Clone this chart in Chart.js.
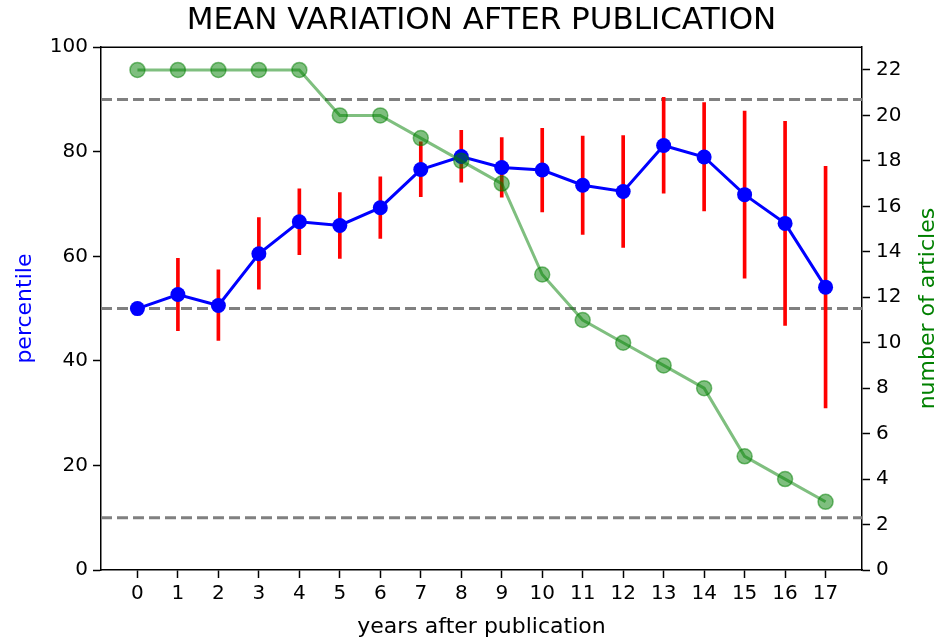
<!DOCTYPE html>
<html>
<head>
<meta charset="utf-8">
<title>Mean variation after publication</title>
<script src="https://cdn.jsdelivr.net/npm/chart.js@4.4.1/dist/chart.umd.min.js"></script>
<style>
  html, body { margin: 0; padding: 0; background: #fff; }
  #wrap { width: 944px; height: 640px; }
</style>
</head>
<body>
<div id="wrap"><canvas id="chart-variation" width="944" height="640"></canvas></div>
<script>
// data
var years = [0, 1, 2, 3, 4, 5, 6, 7, 8, 9, 10, 11, 12, 13, 14, 15, 16, 17];
var percentile = [50.0, 52.7, 50.6, 60.5, 66.6, 65.9, 69.3, 76.6, 79.1, 77.0, 76.5, 73.6, 72.4, 81.2, 79.0, 71.8, 66.3, 54.1];
var errLow  = [null, 45.8, 43.9, 53.7, 60.3, 59.6, 63.4, 71.4, 74.2, 71.3, 68.5, 64.2, 61.7, 72.1, 68.7, 55.8, 46.8, 31.0];
var errHigh = [null, 59.6, 57.4, 67.4, 72.9, 72.2, 75.2, 81.9, 84.1, 82.7, 84.5, 83.0, 83.1, 90.4, 89.4, 87.8, 85.8, 77.2];
var articles = [22, 22, 22, 22, 22, 20, 20, 19, 18, 17, 13, 11, 10, 9, 8, 5, 4, 3];
var refLevels = [10, 50, 90];
var leftTicks = [0, 20, 40, 60, 80, 100];
var rightTicks = [0, 2, 4, 6, 8, 10, 12, 14, 16, 18, 20, 22];

var FONT = "'DejaVu Sans', sans-serif";
var xMin = -0.9, xMax = 17.9;

var refSets = refLevels.map(function (lvl) {
    return {
        type: 'line',
        data: [{x: xMin, y: lvl}, {x: xMax, y: lvl}],
        yAxisID: 'y',
        borderColor: '#808080',
        borderWidth: 3,
        borderDash: [11, 5],
        pointRadius: 0,
        order: 10
    };
});

var errorSet = {
    type: 'bar',
    data: years.map(function (x, i) {
        return errLow[i] === null ? null : {x: x, y: [errLow[i], errHigh[i]]};
    }).filter(function (d) { return d !== null; }),
    yAxisID: 'y',
    backgroundColor: '#ff0000',
    borderWidth: 0,
    barThickness: 3,
    order: 5
};

var meanSet = {
    type: 'line',
    data: years.map(function (x, i) { return {x: x, y: percentile[i]}; }),
    yAxisID: 'y',
    borderColor: '#0000ff',
    backgroundColor: '#0000ff',
    borderWidth: 3,
    pointRadius: 7.5,
    pointBorderWidth: 0,
    order: 3
};

var countSet = {
    type: 'line',
    data: years.map(function (x, i) { return {x: x, y: articles[i]}; }),
    yAxisID: 'y2',
    borderColor: 'rgba(0,128,0,0.5)',
    backgroundColor: 'rgba(0,128,0,0.5)',
    borderWidth: 3,
    pointRadius: 7.5,
    pointBorderWidth: 1.5,
    pointBorderColor: 'rgba(0,128,0,0.5)',
    order: 1
};

// top frame line and right axis label (reads bottom-to-top like matplotlib)
var frameAndRightLabel = {
    id: 'frameAndRightLabel',
    afterDraw: function (chart) {
        var ctx = chart.ctx, a = chart.chartArea;
        ctx.save();
        ctx.strokeStyle = '#000';
        ctx.lineWidth = 1.5;
        ctx.beginPath();
        ctx.moveTo(a.left, a.top);
        ctx.lineTo(a.right, a.top);
        ctx.stroke();
        ctx.translate(a.right + 66, (a.top + a.bottom) / 2);
        ctx.rotate(-Math.PI / 2);
        ctx.fillStyle = 'green';
        ctx.font = "22px " + FONT;
        ctx.textAlign = 'center';
        ctx.textBaseline = 'middle';
        ctx.fillText('number of articles', 0, 0);
        ctx.restore();
    }
};

var tickFont = {family: FONT, size: 20};

var chart = new Chart(document.getElementById('chart-variation'), {
    type: 'line',
    data: { datasets: refSets.concat([errorSet, meanSet, countSet]) },
    options: {
        responsive: false,
        animation: false,
        layout: { padding: 0 },
        plugins: {
            legend: { display: false },
            tooltip: { enabled: false },
            title: {
                display: true,
                text: 'MEAN VARIATION AFTER PUBLICATION',
                color: '#000',
                font: {family: FONT, size: 31, weight: 'normal', lineHeight: 1.2},
                padding: {top: 2, bottom: 8},
                fullSize: false
            }
        },
        scales: {
            x: {
                type: 'linear',
                min: xMin,
                max: xMax,
                offset: false,
                afterBuildTicks: function (s) { s.ticks = years.map(function (v) { return {value: v}; }); },
                afterFit: function (s) { s.height = 70; },
                ticks: { color: '#000', font: tickFont, padding: 4, maxRotation: 0, autoSkip: false },
                grid: { drawOnChartArea: false, offset: false, color: '#000', tickLength: 8, tickWidth: 1.5 },
                border: { display: true, color: '#000', width: 1.5 },
                title: { display: true, text: 'years after publication', color: '#000',
                         font: {family: FONT, size: 22}, padding: {top: 0, bottom: 0} }
            },
            y: {
                position: 'left',
                min: 0,
                max: 100,
                afterBuildTicks: function (s) { s.ticks = leftTicks.map(function (v) { return {value: v}; }); },
                afterFit: function (s) { s.width = 101; },
                ticks: { color: '#000', font: tickFont, padding: 5 },
                grid: { drawOnChartArea: false, color: '#000', tickLength: 8, tickWidth: 1.5 },
                border: { display: true, color: '#000', width: 1.5 },
                title: { display: true, text: 'percentile', color: 'blue',
                         font: {family: FONT, size: 22}, padding: {top: 12, bottom: 0} }
            },
            y2: {
                position: 'right',
                min: 0,
                max: 23,
                afterBuildTicks: function (s) { s.ticks = rightTicks.map(function (v) { return {value: v}; }); },
                afterFit: function (s) { s.width = 82; },
                ticks: { color: '#000', font: tickFont, padding: 6 },
                grid: { drawOnChartArea: false, color: '#000', tickLength: 8, tickWidth: 1.5 },
                border: { display: true, color: '#000', width: 1.5 }
            }
        }
    },
    plugins: [frameAndRightLabel]
});
</script>
</body>
</html>
